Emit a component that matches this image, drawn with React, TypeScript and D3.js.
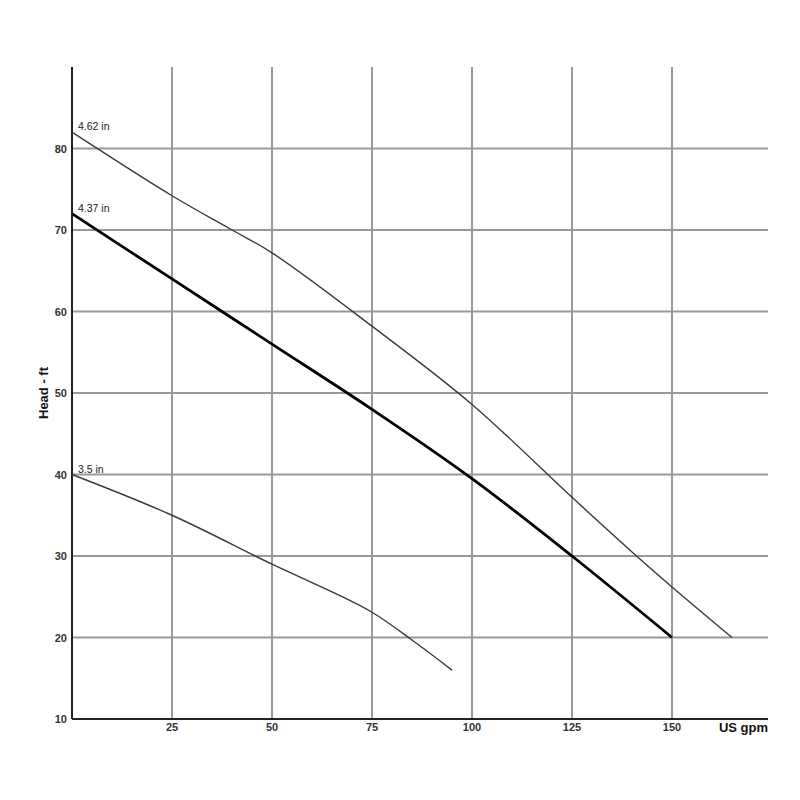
import React, { useEffect, useRef } from 'react';
import * as d3 from 'd3';

// flow (US gpm) / head (ft)
const flow462 = [0, 25, 40, 50, 75, 100, 125, 140, 150, 165];
const head462 = [82, 74.2, 70, 67.2, 58.2, 48.6, 37.2, 30.5, 26.2, 20];

const flow437 = [0, 25, 50, 75, 100, 125, 150];
const head437 = [72, 64, 56, 48, 39.5, 30, 20];

const flow35 = [0, 25, 50, 65, 75, 85, 95];
const head35 = [40, 35, 29, 25.6, 23.1, 19.7, 16];

const xTicks = [25, 50, 75, 100, 125, 150];
const yTicks = [10, 20, 30, 40, 50, 60, 70, 80];

const curves = [
  { label: '4.62 in', flow: flow462, head: head462, width: 1.4, color: '#3a3a3a' },
  { label: '4.37 in', flow: flow437, head: head437, width: 2.8, color: '#000' },
  { label: '3.5 in', flow: flow35, head: head35, width: 1.4, color: '#3a3a3a' },
];

const PumpCurve: React.FC = () => {
  const svgRef = useRef<SVGSVGElement>(null);

  useEffect(() => {
    if (!svgRef.current) return;
    const svg = d3.select(svgRef.current);
    svg.selectAll('*').remove();

    const left = 72, right = 768, top = 67, bottom = 719;
    const x = d3.scaleLinear().domain([0, 174]).range([left, right]);
    const y = d3.scaleLinear().domain([10, 90]).range([bottom, top]);

    // grid
    const grid = svg.append('g').attr('stroke', '#999').attr('stroke-width', 2);
    xTicks.forEach(t => {
      grid.append('line').attr('x1', x(t)).attr('x2', x(t)).attr('y1', top).attr('y2', bottom);
    });
    yTicks.filter(t => t > 10).forEach(t => {
      grid.append('line').attr('x1', left).attr('x2', right).attr('y1', y(t)).attr('y2', y(t));
    });

    // axes lines
    svg.append('line').attr('x1', left).attr('x2', left).attr('y1', top).attr('y2', bottom)
      .attr('stroke', '#222').attr('stroke-width', 2);
    svg.append('line').attr('x1', left).attr('x2', right).attr('y1', bottom).attr('y2', bottom)
      .attr('stroke', '#222').attr('stroke-width', 2);

    // tick labels
    svg.append('g').selectAll('text').data(xTicks).enter().append('text')
      .attr('x', d => x(d)).attr('y', bottom + 12)
      .attr('text-anchor', 'middle')
      .attr('font-family', 'Liberation Sans, Arial, sans-serif')
      .attr('font-size', 11).attr('font-weight', 'bold').attr('fill', '#333')
      .text(d => d);
    svg.append('g').selectAll('text').data(yTicks).enter().append('text')
      .attr('x', left - 5).attr('y', d => y(d) + 4)
      .attr('text-anchor', 'end')
      .attr('font-family', 'Liberation Sans, Arial, sans-serif')
      .attr('font-size', 11).attr('font-weight', 'bold').attr('fill', '#333')
      .text(d => d);

    svg.append('text').attr('x', right).attr('y', bottom + 13)
      .attr('text-anchor', 'end')
      .attr('font-family', 'Liberation Sans, Arial, sans-serif')
      .attr('font-size', 13).attr('font-weight', 'bold').attr('fill', '#111')
      .text('US gpm');

    svg.append('text')
      .attr('transform', `translate(48, ${(top + bottom) / 2}) rotate(-90)`)
      .attr('text-anchor', 'middle')
      .attr('font-family', 'Liberation Sans, Arial, sans-serif')
      .attr('font-size', 13).attr('font-weight', 'bold').attr('fill', '#111')
      .text('Head - ft');

    // curves
    curves.forEach(c => {
      const pts: [number, number][] = c.flow.map((f, i) => [f, c.head[i]]);
      const line = d3.line<[number, number]>()
        .x(d => x(d[0])).y(d => y(d[1]))
        .curve(d3.curveCatmullRom.alpha(0.5));
      svg.append('path').datum(pts).attr('d', line)
        .attr('fill', 'none').attr('stroke', c.color).attr('stroke-width', c.width);
      svg.append('text')
        .attr('x', x(0) + 6).attr('y', y(c.head[0]) - 2)
        .attr('font-family', 'Liberation Sans, Arial, sans-serif')
        .attr('font-size', 10.5).attr('fill', '#222')
        .text(c.label);
    });
  }, []);

  return (
    <svg ref={svgRef} width={800} height={800}
      style={{ position: 'absolute', left: 0, top: 0, background: '#fff' }} />
  );
};

export default function App() {
  return <PumpCurve />;
}
